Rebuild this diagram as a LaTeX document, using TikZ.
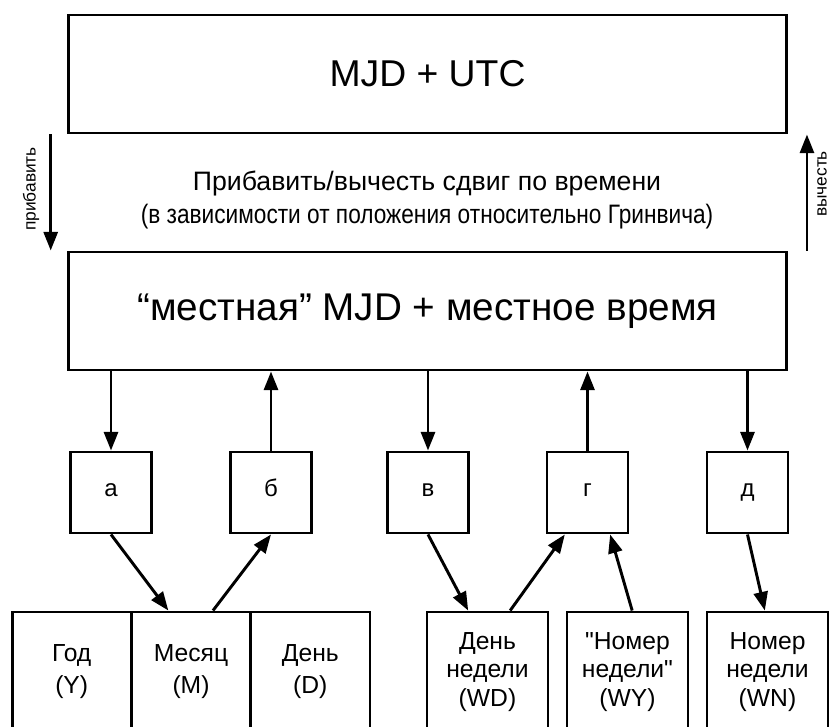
\documentclass[tikz,border=0pt]{standalone}
\usepackage{fontspec}
\setmainfont{Liberation Sans}[Ligatures=TeXOff]
\newfontfamily\narrowsans{Liberation Sans}[Ligatures=TeXOff,FakeStretch=0.85]
\usetikzlibrary{arrows.meta}
\begin{document}
\begin{tikzpicture}[x=0.75pt,y=-0.75pt,line width=2.2pt,
    bigbox/.style={draw,minimum width=539pt,minimum height=88.5pt,inner sep=0pt},
    smallbox/.style={draw,minimum width=60.75pt,minimum height=60.75pt,inner sep=0pt,
      text height=1ex,text depth=0pt,font=\fontsize{18}{22}\selectfont},
    lowbox/.style={draw,minimum width=89.5pt,minimum height=90pt,inner sep=0pt,align=center,font=\fontsize{18.5}{24}\selectfont},
    weekbox/.style={lowbox,minimum width=90.75pt,font=\fontsize{18.5}{21.5}\selectfont},
    sidelbl/.style={rotate=90,inner sep=0pt,font=\fontsize{13}{15}\selectfont},
    arr/.style={-{Triangle[length=14pt,width=10.5pt]}}]
      \clip (0,0) rectangle (832,726);
      \node[bigbox,font=\fontsize{28}{34}\selectfont] (utc) at (427.5,74) {MJD + UTC};
      \node[bigbox,font=\fontsize{29}{34}\selectfont] (local) at (427.5,311) {“местная” MJD + местное время};
      \node[align=center,font=\fontsize{20}{25}\selectfont] (shift) at (427,200)
        {Прибавить/вычесть сдвиг по времени\\{\narrowsans(в зависимости от положения относительно Гринвича)}};
      \node[sidelbl] (addlbl) at (31,189) {прибавить};
      \node[sidelbl] (sublbl) at (822,184) {вычесть};
      \node[smallbox] (a) at (111,492.5) {а};
      \node[smallbox] (b) at (271,492.5) {б};
      \node[smallbox] (v) at (428,492.5) {в};
      \node[smallbox] (g) at (587.5,492.5) {г};
      \node[smallbox] (d) at (747.5,492.5) {д};
      \node[lowbox] (year) at (71.7,672) {Год\\(Y)};
      \node[lowbox] (month) at (191,672) {Месяц\\(M)};
      \node[lowbox] (day) at (310.3,672) {День\\(D)};
      \node[weekbox] (wd) at (487.5,672) {День\\недели\\(WD)};
      \node[weekbox] (wy) at (627.5,672) {"Номер\\недели"\\(WY)};
      \node[weekbox] (wn) at (767.5,672) {Номер\\недели\\(WN)};
      \begin{scope}[arr]
        \draw ([xshift=-12pt]utc.south west) to ([xshift=-12pt]local.north west);
        \draw ([xshift=14pt]local.north east) to ([xshift=14pt]utc.south east);
        \draw (a.north |- local.south) to (a.north);
        \draw (b.north) to (b.north |- local.south);
        \draw (v.north |- local.south) to (v.north);
        \draw (g.north) to (g.north |- local.south);
        \draw (d.north |- local.south) to (d.north);
        \draw (a.south) to ([xshift=-17pt]month.north);
        \draw ([xshift=16.5pt]month.north) to (b.south);
        \draw (v.south) to ([xshift=-14.5pt]wd.north);
        \draw ([xshift=17pt]wd.north) to ([xshift=-17pt]g.south);
        \draw ([xshift=3.5pt]wy.north) to ([xshift=17pt]g.south);
        \draw (d.south) to ([xshift=-2pt]wn.north);
      \end{scope}
    \end{tikzpicture}
\end{document}
